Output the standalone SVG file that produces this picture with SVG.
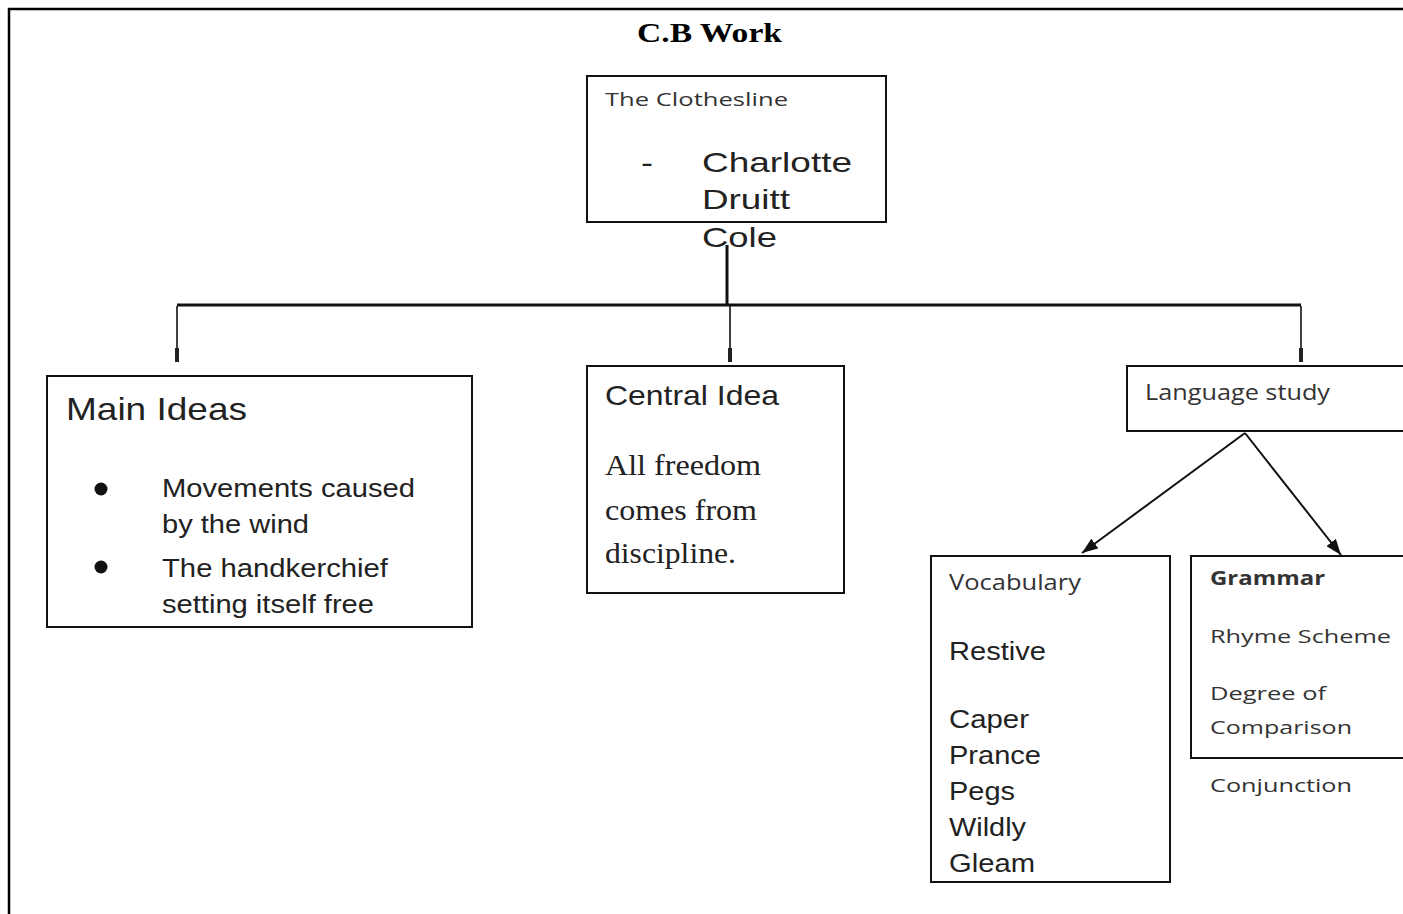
<svg xmlns="http://www.w3.org/2000/svg" width="1403" height="914" viewBox="0 0 1403 914">
  <style>
    .box { fill: #fff; stroke: #111; stroke-width: 2; }
    .sans { font-family: "Liberation Sans", Arial, sans-serif; fill: #222; }
    .serif { font-family: "Liberation Serif", "Times New Roman", serif; fill: #222; }
    .cal { font-family: "Open Sans", "Noto Sans", sans-serif; fill: #333; }
    .conn { fill: none; stroke: #111; }
  </style>
  <defs>
    <marker id="tick" viewBox="0 0 14 6" refX="14" refY="3" markerWidth="14" markerHeight="6" markerUnits="userSpaceOnUse" orient="auto">
      <rect x="0" y="1" width="14" height="4" fill="#222"/>
    </marker>
    <marker id="head" viewBox="0 0 16 12" refX="16" refY="6" markerWidth="16" markerHeight="12" markerUnits="userSpaceOnUse" orient="auto">
      <path d="M0,0 L16,6 L0,12 z" fill="#111"/>
    </marker>
  </defs>

  <rect width="1403" height="914" fill="#fff"/>

  <!-- page frame -->
  <path d="M9,914 V9 H1403" fill="none" stroke="#000" stroke-width="2.5"/>

  <text x="637" y="42" class="serif" font-size="27" font-weight="bold" style="fill:#000" textLength="145" lengthAdjust="spacingAndGlyphs">C.B  Work</text>

  <g id="connectors">
    <path class="conn" d="M727,245 V305" stroke-width="3"/>
    <path class="conn" d="M177,305 H1301" stroke-width="3"/>
    <path class="conn" d="M177,306 V362" stroke-width="1.6" stroke="#444" marker-end="url(#tick)"/>
    <path class="conn" d="M730,306 V362" stroke-width="1.6" stroke="#444" marker-end="url(#tick)"/>
    <path class="conn" d="M1301,306 V362" stroke-width="1.6" stroke="#444" marker-end="url(#tick)"/>
    <path class="conn" d="M1245,433 L1082,553" stroke-width="2" marker-end="url(#head)"/>
    <path class="conn" d="M1245,433 L1341,555" stroke-width="2" marker-end="url(#head)"/>
  </g>

  <g id="node-title">
    <rect class="box" x="587" y="76" width="299" height="146"/>
    <text x="605" y="106" class="cal" font-size="19" textLength="183" lengthAdjust="spacingAndGlyphs">The Clothesline</text>
    <text x="641" y="172" class="sans" font-size="28" textLength="12" lengthAdjust="spacingAndGlyphs">-</text>
    <text class="sans" font-size="28">
      <tspan x="702" y="172" textLength="150" lengthAdjust="spacingAndGlyphs">Charlotte</tspan>
      <tspan x="702" y="209" textLength="88" lengthAdjust="spacingAndGlyphs">Druitt</tspan>
      <tspan x="702" y="247" textLength="75" lengthAdjust="spacingAndGlyphs">Cole</tspan>
    </text>
  </g>

  <g id="node-main-ideas">
    <rect class="box" x="47" y="376" width="425" height="251"/>
    <text x="66" y="420" class="sans" font-size="32" textLength="181" lengthAdjust="spacingAndGlyphs">Main Ideas</text>
    <circle cx="101" cy="489" r="6.5" fill="#111"/>
    <circle cx="101" cy="567" r="6.5" fill="#111"/>
    <text class="sans" font-size="25">
      <tspan x="162" y="497" textLength="253" lengthAdjust="spacingAndGlyphs">Movements caused</tspan>
      <tspan x="162" y="533" textLength="147" lengthAdjust="spacingAndGlyphs">by the wind</tspan>
      <tspan x="162" y="577" textLength="226" lengthAdjust="spacingAndGlyphs">The handkerchief</tspan>
      <tspan x="162" y="613" textLength="212" lengthAdjust="spacingAndGlyphs">setting itself free</tspan>
    </text>
  </g>

  <g id="node-central-idea">
    <rect class="box" x="587" y="366" width="257" height="227"/>
    <text x="605" y="405" class="sans" font-size="28" textLength="174" lengthAdjust="spacingAndGlyphs">Central Idea</text>
    <text class="serif" font-size="30">
      <tspan x="605" y="475" textLength="156" lengthAdjust="spacingAndGlyphs">All freedom</tspan>
      <tspan x="605" y="520" textLength="152" lengthAdjust="spacingAndGlyphs">comes from</tspan>
      <tspan x="605" y="563" textLength="131" lengthAdjust="spacingAndGlyphs">discipline.</tspan>
    </text>
  </g>

  <g id="node-language-study">
    <rect class="box" x="1127" y="366" width="290" height="65"/>
    <text x="1145" y="400" class="cal" font-size="21" textLength="185" lengthAdjust="spacingAndGlyphs">Language study</text>
  </g>

  <g id="node-vocabulary">
    <rect class="box" x="931" y="556" width="239" height="326"/>
    <text x="949" y="590" class="cal" font-size="22" textLength="132" lengthAdjust="spacingAndGlyphs">Vocabulary</text>
    <text class="sans" font-size="26">
      <tspan x="949" y="660" textLength="97" lengthAdjust="spacingAndGlyphs">Restive</tspan>
      <tspan x="949" y="728" textLength="80" lengthAdjust="spacingAndGlyphs">Caper</tspan>
      <tspan x="949" y="764" textLength="92" lengthAdjust="spacingAndGlyphs">Prance</tspan>
      <tspan x="949" y="800" textLength="66" lengthAdjust="spacingAndGlyphs">Pegs</tspan>
      <tspan x="949" y="836" textLength="77" lengthAdjust="spacingAndGlyphs">Wildly</tspan>
      <tspan x="949" y="872" textLength="86" lengthAdjust="spacingAndGlyphs">Gleam</tspan>
    </text>
  </g>

  <g id="node-grammar">
    <rect class="box" x="1191" y="556" width="230" height="202"/>
    <text x="1210" y="585" class="cal" font-size="19" font-weight="bold" textLength="115" lengthAdjust="spacingAndGlyphs">Grammar</text>
    <text class="cal" font-size="19">
      <tspan x="1210" y="643" textLength="181" lengthAdjust="spacingAndGlyphs">Rhyme Scheme</tspan>
      <tspan x="1210" y="700" textLength="116" lengthAdjust="spacingAndGlyphs">Degree of</tspan>
      <tspan x="1210" y="734" textLength="142" lengthAdjust="spacingAndGlyphs">Comparison</tspan>
      <tspan x="1210" y="792" textLength="142" lengthAdjust="spacingAndGlyphs">Conjunction</tspan>
    </text>
  </g>
</svg>
